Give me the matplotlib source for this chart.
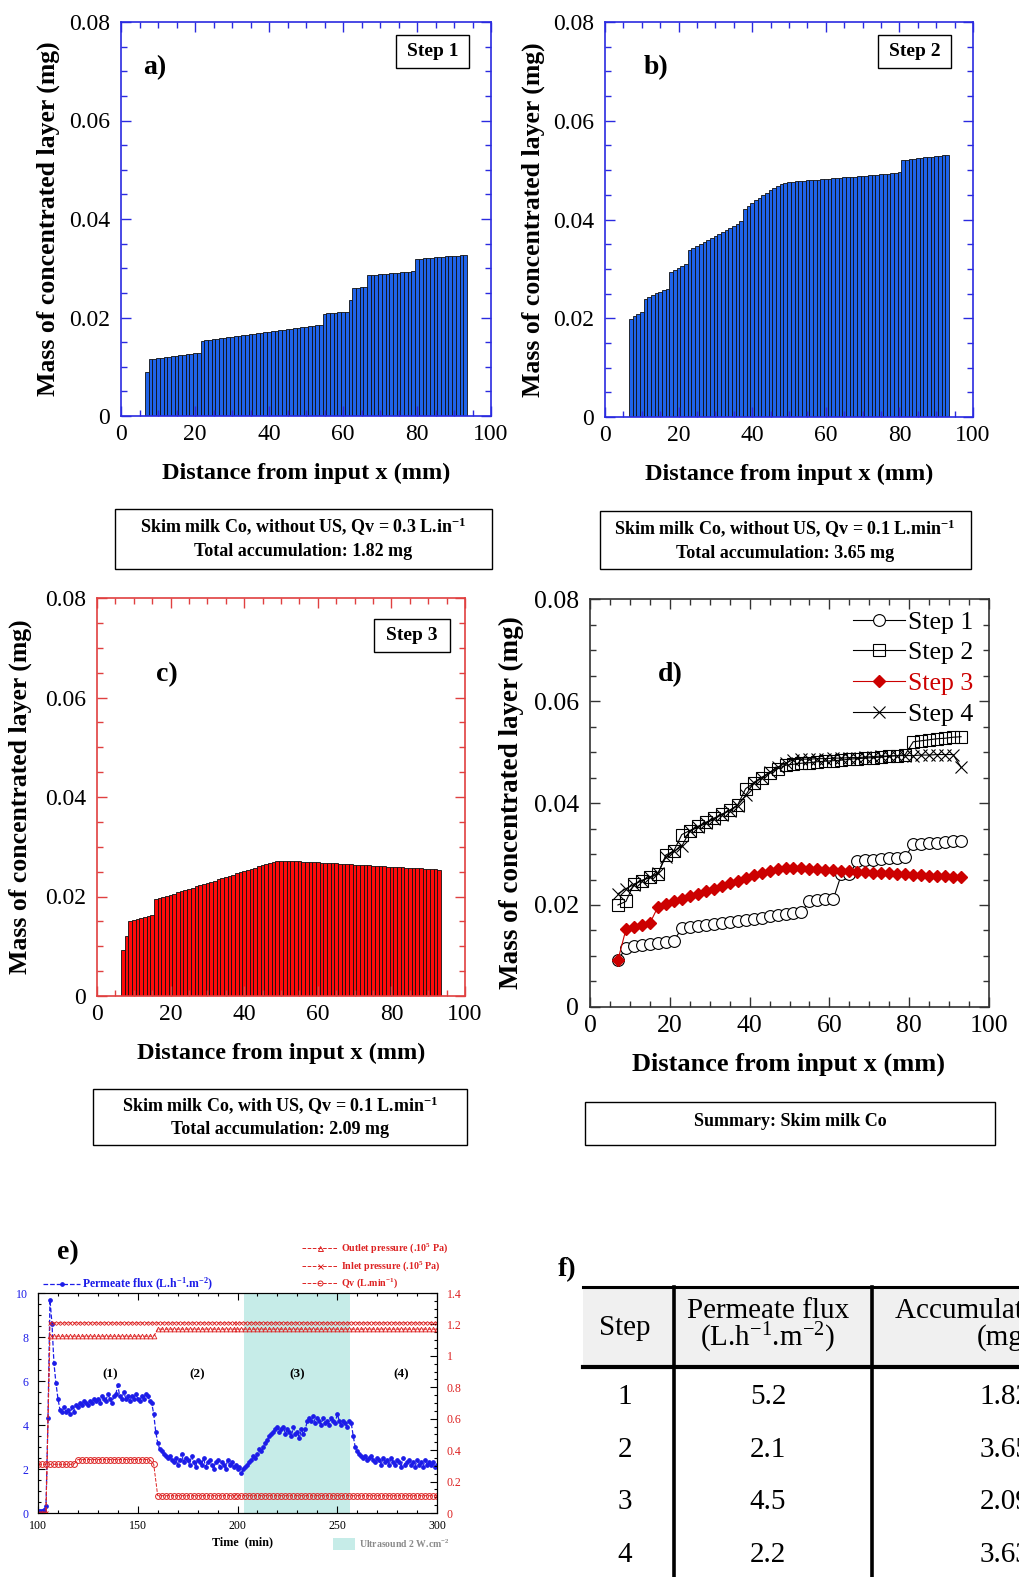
import numpy as np
import matplotlib
matplotlib.use('Agg')
import matplotlib.pyplot as plt
from matplotlib.patches import Rectangle
from matplotlib.lines import Line2D
from matplotlib.ticker import MultipleLocator, FuncFormatter

plt.rcParams['font.family'] = ['Liberation Serif', 'DejaVu Serif']
plt.rcParams['mathtext.fontset'] = 'custom'
plt.rcParams['mathtext.rm'] = 'Liberation Serif'
plt.rcParams['mathtext.bf'] = 'Liberation Serif:bold'
plt.rcParams['mathtext.it'] = 'Liberation Serif:italic'

# ---------------- DATA ----------------
bar_x_mm = np.arange(7, 94)  # bar centres (mm)

mass_step1_bars = [0.0090, 0.0115, 0.0116, 0.0117, 0.0118, 0.0119, 0.0120, 0.0121, 0.0122, 0.0123,
                   0.0124, 0.0125, 0.0126, 0.0127, 0.0128, 0.0153, 0.0154, 0.0155, 0.0156, 0.0157,
                   0.0158, 0.0159, 0.0160, 0.0161, 0.0162, 0.0163, 0.0164, 0.0165, 0.0166, 0.0167,
                   0.0168, 0.0169, 0.0170, 0.0171, 0.0172, 0.0173, 0.0174, 0.0175, 0.0176, 0.0177,
                   0.0178, 0.0179, 0.0180, 0.0181, 0.0182, 0.0183, 0.0184, 0.0185, 0.0208, 0.0209,
                   0.0209, 0.0210, 0.0211, 0.0211, 0.0212, 0.0236, 0.0260, 0.0260, 0.0261, 0.0261,
                   0.0286, 0.0287, 0.0287, 0.0288, 0.0289, 0.0289, 0.0290, 0.0291, 0.0291, 0.0292,
                   0.0292, 0.0293, 0.0294, 0.0318, 0.0319, 0.0320, 0.0320, 0.0321, 0.0322, 0.0322,
                   0.0323, 0.0324, 0.0324, 0.0325, 0.0325, 0.0326, 0.0327]

mass_step2_bars = [0.0199, 0.0204, 0.0208, 0.0212, 0.0240, 0.0244, 0.0248, 0.0251, 0.0254, 0.0257,
                   0.0260, 0.0293, 0.0298, 0.0302, 0.0306, 0.0309, 0.0338, 0.0342, 0.0346, 0.0350,
                   0.0354, 0.0358, 0.0362, 0.0366, 0.0370, 0.0374, 0.0378, 0.0382, 0.0386, 0.0391,
                   0.0396, 0.0422, 0.0428, 0.0434, 0.0439, 0.0444, 0.0449, 0.0454, 0.0459, 0.0463,
                   0.0467, 0.0471, 0.0474, 0.0475, 0.0476, 0.0477, 0.0478, 0.0478, 0.0479, 0.0480,
                   0.0481, 0.0481, 0.0482, 0.0483, 0.0483, 0.0484, 0.0484, 0.0485, 0.0486, 0.0486,
                   0.0487, 0.0487, 0.0488, 0.0489, 0.0489, 0.0490, 0.0490, 0.0491, 0.0492, 0.0492,
                   0.0493, 0.0494, 0.0495, 0.0496, 0.0520, 0.0521, 0.0522, 0.0523, 0.0524, 0.0525,
                   0.0526, 0.0527, 0.0527, 0.0528, 0.0529, 0.0530, 0.0530]

mass_step3_bars = [0.0092, 0.0121, 0.0151, 0.0153, 0.0155, 0.0156, 0.0158, 0.0160, 0.0163, 0.0194,
                   0.0197, 0.0199, 0.0201, 0.0204, 0.0206, 0.0209, 0.0211, 0.0213, 0.0216, 0.0218,
                   0.0221, 0.0223, 0.0225, 0.0228, 0.0230, 0.0232, 0.0235, 0.0237, 0.0240, 0.0242,
                   0.0244, 0.0247, 0.0249, 0.0251, 0.0254, 0.0256, 0.0258, 0.0261, 0.0263, 0.0265,
                   0.0267, 0.0269, 0.0271, 0.0272, 0.0272, 0.0272, 0.0271, 0.0271, 0.0271, 0.0270,
                   0.0270, 0.0270, 0.0269, 0.0269, 0.0268, 0.0268, 0.0267, 0.0267, 0.0267, 0.0266,
                   0.0266, 0.0265, 0.0265, 0.0264, 0.0264, 0.0263, 0.0263, 0.0263, 0.0262, 0.0262,
                   0.0261, 0.0261, 0.0260, 0.0260, 0.0260, 0.0259, 0.0259, 0.0258, 0.0258, 0.0257,
                   0.0257, 0.0257, 0.0256, 0.0256, 0.0255, 0.0255, 0.0254]

# summary panel d (every 2 mm)
summary_x_mm = np.arange(7, 95, 2)
summary_step1 = [0.0092, 0.0116, 0.0119, 0.0121, 0.0123, 0.0126, 0.0128, 0.0130, 0.0154, 0.0156,
                 0.0158, 0.0160, 0.0162, 0.0165, 0.0167, 0.0169, 0.0171, 0.0173, 0.0175, 0.0178,
                 0.0180, 0.0182, 0.0184, 0.0186, 0.0208, 0.0210, 0.0211, 0.0212, 0.0260, 0.0260,
                 0.0286, 0.0288, 0.0289, 0.0290, 0.0292, 0.0293, 0.0294, 0.0319, 0.0320, 0.0321,
                 0.0322, 0.0324, 0.0325, 0.0326]
summary_step2 = [0.0200, 0.0207, 0.0241, 0.0248, 0.0254, 0.0260, 0.0298, 0.0306, 0.0338, 0.0346,
                 0.0354, 0.0362, 0.0370, 0.0378, 0.0386, 0.0396, 0.0428, 0.0439, 0.0449, 0.0459,
                 0.0467, 0.0474, 0.0476, 0.0478, 0.0479, 0.0481, 0.0482, 0.0483, 0.0484, 0.0486,
                 0.0487, 0.0488, 0.0489, 0.0490, 0.0492, 0.0493, 0.0495, 0.0520, 0.0522, 0.0524,
                 0.0526, 0.0527, 0.0529, 0.0530]
summary_step3 = [0.0092, 0.0152, 0.0156, 0.0160, 0.0164, 0.0196, 0.0202, 0.0207, 0.0212, 0.0217,
                 0.0222, 0.0227, 0.0232, 0.0238, 0.0243, 0.0248, 0.0253, 0.0258, 0.0263, 0.0267,
                 0.0270, 0.0272, 0.0273, 0.0272, 0.0271, 0.0270, 0.0269, 0.0268, 0.0267, 0.0266,
                 0.0265, 0.0264, 0.0263, 0.0262, 0.0262, 0.0261, 0.0260, 0.0259, 0.0258, 0.0257,
                 0.0257, 0.0256, 0.0255, 0.0254]
summary_step4 = [0.0222, 0.0232, 0.0240, 0.0248, 0.0255, 0.0262, 0.0295, 0.0305, 0.0315, 0.0345,
                 0.0352, 0.0360, 0.0368, 0.0377, 0.0385, 0.0395, 0.0415, 0.0440, 0.0450, 0.0460,
                 0.0470, 0.0478, 0.0485, 0.0486, 0.0486, 0.0487, 0.0487, 0.0488, 0.0488, 0.0489,
                 0.0489, 0.0490, 0.0491, 0.0492, 0.0492, 0.0493, 0.0493, 0.0493, 0.0494, 0.0494,
                 0.0495, 0.0495, 0.0495, 0.0470]
summary_labels = ['Step 1', 'Step 2', 'Step 3', 'Step 4']

# panel e: permeate flux every 1 min from t = 100 min
flux_time_min = np.arange(100, 301)
permeate_flux = [0.1, 0.1, 0.1, 0.15, 0.3, 4.3, 9.7, 8.6, 6.8, 5.9,
                 5.2, 4.7, 4.6, 4.8, 4.6, 4.7, 4.5, 4.8, 4.6, 4.9,
                 4.8, 5.0, 4.9, 5.1, 5.0, 4.9, 5.1, 5.0, 5.2, 5.1,
                 5.2, 5.0, 5.3, 5.2, 5.1, 5.4, 5.2, 5.0, 5.3, 5.4,
                 5.8, 5.3, 5.2, 5.5, 5.2, 5.3, 5.1, 5.3, 5.2, 5.4,
                 5.2, 5.1, 5.3, 5.2, 5.4, 5.3, 5.1, 5.0, 4.5, 3.7,
                 3.2, 2.9, 2.8, 2.7, 2.6, 2.5, 2.6, 2.4, 2.3, 2.5,
                 2.2, 2.4, 2.7, 2.3, 2.5, 2.4, 2.2, 2.6, 2.3, 2.1,
                 2.4, 2.3, 2.2, 2.5, 2.1, 2.3, 2.4, 2.2, 2.0, 2.3,
                 2.4, 2.1, 2.3, 2.2, 2.0, 2.4, 2.2, 2.3, 2.1, 2.2,
                 2.0, 2.1, 1.8, 2.0, 2.1, 2.2, 2.3, 2.4, 2.6, 2.5,
                 2.7, 2.9, 2.8, 3.0, 3.2, 3.3, 3.5, 3.6, 3.7, 3.8,
                 3.9, 3.7, 3.8, 3.9, 3.6, 3.8, 3.7, 3.5, 3.9, 3.6,
                 3.7, 3.4, 3.8, 3.6, 3.8, 4.2, 4.3, 4.2, 4.4, 4.1,
                 4.3, 4.2, 4.0, 4.3, 4.1, 4.2, 4.0, 4.3, 4.2, 4.1,
                 4.5, 4.2, 4.0, 4.2, 4.1, 3.9, 4.2, 4.1, 3.5, 3.0,
                 2.8, 2.7, 2.6, 2.5, 2.6, 2.4, 2.5, 2.6, 2.4, 2.3,
                 2.5, 2.4, 2.2, 2.5, 2.3, 2.4, 2.2, 2.5, 2.3, 2.2,
                 2.4, 2.3, 2.1, 2.5, 2.2, 2.3, 2.4, 2.2, 2.3, 2.1,
                 2.4, 2.2, 2.3, 2.1, 2.4, 2.2, 2.3, 2.2, 2.3, 2.1,
                 2.2]

# panel e: operating conditions every 2 min from t = 100 min (right axis)
cond_time_min = np.arange(100, 301, 2)
outlet_pressure = [0.0] * 3 + [1.125] * 27 + [1.17] * 71
inlet_pressure = [0.0] * 3 + [1.21] * 98
qv_flow = [0.31] * 10 + [0.34] * 19 + [0.31] + [0.11] * 71
ultrasound_span = (203.5, 256.5)
step_label_time = [136, 180, 230, 282]
step_label_text = ['(1)', '(2)', '(3)', '(4)']

# panel f table
table_steps = ['1', '2', '3', '4']
table_flux = ['5.2', '2.1', '4.5', '2.2']
table_accum = ['1.82', '3.65', '2.09', '3.63']

# ---------------- FIGURE ----------------
W, H = 1019, 1577
fig = plt.figure(figsize=(W / 100, H / 100), dpi=100)


def fx(x):
    return x / W


def fy(y):
    return 1 - y / H


def rect_axes(l, t, r, b):
    return fig.add_axes([l / W, 1 - b / H, (r - l) / W, (b - t) / H])


def fig_rect(l, t, r, b, lw=1.0, fc='none', ec='black', z=1):
    fig.add_artist(Rectangle((fx(l), fy(b)), (r - l) / W, (b - t) / H, transform=fig.transFigure,
                             lw=lw, fc=fc, ec=ec, zorder=z))


def fig_line(xs, ys, **kw):
    fig.add_artist(Line2D([fx(v) for v in xs], [fy(v) for v in ys], transform=fig.transFigure, **kw))


def ftext(x, y, s, **kw):
    kw.setdefault('ha', 'center')
    kw.setdefault('va', 'center')
    fig.text(fx(x), fy(y), s, **kw)


yfmt = FuncFormatter(lambda v, p: '0' if abs(v) < 1e-12 else f'{v:.2f}')
xfmt = FuncFormatter(lambda v, p: f'{v:g}')


def style_mass_axes(ax, spine_color, labelsize=17):
    ax.set_xlim(0, 100)
    ax.set_ylim(0, 0.08)
    ax.xaxis.set_major_locator(MultipleLocator(20))
    ax.xaxis.set_minor_locator(MultipleLocator(5))
    ax.yaxis.set_major_locator(MultipleLocator(0.02))
    ax.yaxis.set_minor_locator(MultipleLocator(0.005))
    ax.yaxis.set_major_formatter(yfmt)
    ax.xaxis.set_major_formatter(xfmt)
    ax.tick_params(which='both', direction='in', top=True, right=True, color=spine_color,
                   labelcolor='black', width=1.0)
    ax.tick_params(which='major', length=7, labelsize=labelsize)
    ax.tick_params(which='minor', length=4)
    ax.tick_params(axis='y', pad=8)
    ax.tick_params(axis='x', pad=6)
    for sp in ax.spines.values():
        sp.set_color(spine_color)
        sp.set_linewidth(1.2)


def bar_panel(box, values, face, spine, label, lab_xy, step_txt, step_box, ylab_x, xlab_y, fs=18.5):
    l, t, r, b = box
    ax = rect_axes(l, t, r, b)
    ax.bar(bar_x_mm, values, width=1.0, color=face, edgecolor='#111111', linewidth=0.6)
    style_mass_axes(ax, spine)
    ftext(lab_xy[0], lab_xy[1], label, fontsize=20, fontweight='bold')
    sl, st, sr, sb = step_box
    fig_rect(sl, st, sr, sb, lw=1.0)
    ftext((sl + sr) / 2, (st + sb) / 2, step_txt, fontsize=14, fontweight='bold')
    ftext(ylab_x, (t + b) / 2, 'Mass of concentrated layer (mg)', rotation=90,
          fontsize=fs, fontweight='bold')
    ftext((l + r) / 2, xlab_y, 'Distance from input x (mm)', fontsize=17.5, fontweight='bold')
    return ax


blue_bar = '#1f63ea'
blue_spine = '#2a2ae0'
red_bar = '#ff0a0a'
red_spine = '#e04040'

bar_panel((121, 22, 491, 416), mass_step1_bars, blue_bar, blue_spine, 'a)', (155, 68),
          'Step 1', (396, 35, 469, 68), 48, 473)
bar_panel((605, 22, 973, 417), mass_step2_bars, blue_bar, blue_spine, 'b)', (656, 68),
          'Step 2', (878, 35, 951, 68), 533, 474)
bar_panel((97, 598, 465, 996), mass_step3_bars, red_bar, red_spine, 'c)', (167, 675),
          'Step 3', (374, 619, 450, 652), 20, 1053)

# caption boxes
box_bold = dict(fontsize=13, fontweight='bold')
fig_rect(115, 509, 492, 569)
ftext(303, 527, r'Skim milk Co, without US, Qv = 0.3 L.in$^{\mathbf{-1}}$', **box_bold)
ftext(303, 551, 'Total accumulation: 1.82 mg', **box_bold)
fig_rect(600, 511, 971, 569)
ftext(785, 529, r'Skim milk Co, without US, Qv = 0.1 L.min$^{\mathbf{-1}}$', **box_bold)
ftext(785, 553, 'Total accumulation: 3.65 mg', **box_bold)
fig_rect(93, 1089, 467, 1145)
ftext(280, 1106, r'Skim milk Co, with US, Qv = 0.1 L.min$^{\mathbf{-1}}$', **box_bold)
ftext(280, 1130, 'Total accumulation: 2.09 mg', **box_bold)
fig_rect(585, 1102, 995, 1145)
ftext(790, 1121, 'Summary: Skim milk Co', **box_bold)

# ---------------- panel d ----------------
axd = rect_axes(590, 599, 989, 1007)
style_mass_axes(axd, '#333333', labelsize=18.5)
axd.plot(summary_x_mm, summary_step1, color='black', lw=0.8, marker='o', ms=8.5, mfc='white',
         mec='black', mew=0.8, label=summary_labels[0], zorder=3)
axd.plot(summary_x_mm, summary_step3, color='#cc0000', lw=0.8, marker='D', ms=6.5, mfc='#cc0000',
         mec='#cc0000', label=summary_labels[2], zorder=4)
axd.plot(summary_x_mm, summary_step2, color='black', lw=0.8, marker='s', ms=8.5, mfc='none',
         mec='black', mew=0.8, label=summary_labels[1], zorder=5)
axd.plot(summary_x_mm, summary_step4, color='black', lw=0.8, marker='x', ms=9, mec='black',
         mew=0.8, label=summary_labels[3], zorder=6)
h, lb = axd.get_legend_handles_labels()
order = [lb.index(s) for s in summary_labels]
axd.legend([h[i] for i in order], [lb[i] for i in order], loc='upper right',
           bbox_to_anchor=(0.968, 0.978), frameon=False, fontsize=18.5, handlelength=2.0,
           handletextpad=0.15, labelspacing=0.3, borderpad=0.1, borderaxespad=0.0,
           labelcolor=['black', 'black', '#cc0000', 'black'])
ftext(670, 675, 'd)', fontsize=20, fontweight='bold')
ftext(511, 803, 'Mass of concentrated layer (mg)', rotation=90, fontsize=19.5, fontweight='bold')
ftext(789, 1064, 'Distance from input x (mm)', fontsize=19, fontweight='bold')

# ---------------- panel e ----------------
flux_blue = '#1c1ce8'
cond_red = '#dd2222'
axe = rect_axes(38, 1293, 437, 1513)
axe.axvspan(ultrasound_span[0], ultrasound_span[1], color='#c6ece8', zorder=0, lw=0)
axe.plot(flux_time_min, permeate_flux, ls='--', color=flux_blue, lw=0.9, marker='o', ms=2.4,
         mec=flux_blue, mfc=flux_blue, zorder=3)
axe.set_xlim(100, 300)
axe.set_ylim(0, 10)
axe.xaxis.set_major_locator(MultipleLocator(50))
axe.xaxis.set_minor_locator(MultipleLocator(10))
axe.yaxis.set_major_locator(MultipleLocator(2))
axe.yaxis.set_minor_locator(MultipleLocator(0.5))
axe.tick_params(which='both', direction='in', top=True, width=0.8, labelsize=8.6)
axe.tick_params(which='major', length=5)
axe.tick_params(which='minor', length=2.5)
axe.tick_params(axis='y', labelcolor=flux_blue, pad=7)
axe.tick_params(axis='x', pad=5)
for t_, s_ in zip(step_label_time, step_label_text):
    axe.text(t_, 6.3, s_, ha='center', va='center', fontsize=9.5, fontweight='bold')

axe2 = axe.twinx()
axe2.set_ylim(0, 1.4)
axe2.plot(cond_time_min, outlet_pressure, ls='--', color=cond_red, lw=0.7, marker='^', ms=3.4,
          mfc='none', mec=cond_red, mew=0.6)
axe2.plot(cond_time_min, inlet_pressure, ls='--', color=cond_red, lw=0.7, marker='x', ms=3.4,
          mec=cond_red, mew=0.6)
axe2.plot(cond_time_min, qv_flow, ls='--', color=cond_red, lw=0.7, marker='o', ms=4.2,
          mfc='none', mec=cond_red, mew=0.7)
axe2.yaxis.set_major_locator(MultipleLocator(0.2))
axe2.yaxis.set_minor_locator(MultipleLocator(0.05))
axe2.yaxis.set_major_formatter(FuncFormatter(lambda v, p: f'{v:g}'))
axe2.tick_params(which='both', direction='in', width=0.8, labelsize=8.6, labelcolor=cond_red, pad=7)
axe2.tick_params(which='major', length=5)
axe2.tick_params(which='minor', length=2.5)
ftext(243, 1542, 'Time  (min)', fontsize=8.7, fontweight='bold')
ftext(68, 1253, 'e)', fontsize=20, fontweight='bold')

# legends for panel e
leg_red = [('^', 'Outlet pressure (.10$^{\\mathbf{5}}$ Pa)', 1248, 'none'),
           ('x', 'Inlet pressure (.10$^{\\mathbf{5}}$ Pa)', 1266, cond_red),
           ('o', 'Qv (L.min$^{\\mathbf{-1}}$)', 1283, 'none')]
for mk, txt, yy, mf in leg_red:
    fig_line([302, 338], [yy, yy], color=cond_red, lw=0.7, ls='--')
    fig_line([320], [yy], color=cond_red, marker=mk, ms=3.6, mfc=mf, mec=cond_red, mew=0.7, ls='none')
    ftext(341, yy, txt, ha='left', fontsize=7.2, fontweight='bold', color=cond_red)
fig_line([43, 80], [1284, 1284], color=flux_blue, lw=0.9, ls='--')
fig_line([62], [1284], color=flux_blue, marker='o', ms=2.4, ls='none')
ftext(82, 1284, r'Permeate flux (L.h$^{\mathbf{-1}}$.m$^{\mathbf{-2}}$)', ha='left', fontsize=8.5,
      fontweight='bold', color=flux_blue)
fig_rect(333, 1538, 355, 1550, lw=0, fc='#c6ece8')
ftext(359, 1544, r'Ultrasound 2 W.cm$^{\mathbf{-2}}$', ha='left', fontsize=7, fontweight='bold',
      color='#8a8a8a')

# ---------------- panel f (table) ----------------
ftext(567, 1270, 'f)', fontsize=20, fontweight='bold')
fig_rect(583, 1287, 1019, 1367, lw=0, fc='#f0f0f0', z=0)
fig_line([583, 1019], [1287, 1287], color='black', lw=2.2)
fig_line([583, 1019], [1367, 1367], color='black', lw=3.0)
fig_line([674, 674], [1287, 1577], color='black', lw=2.6)
fig_line([872, 872], [1287, 1577], color='black', lw=2.6)
tfs = 21
ftext(625, 1328, 'Step', fontsize=tfs)
ftext(768, 1311, 'Permeate flux', fontsize=tfs)
ftext(768, 1338, r'(L.h$^{-1}$.m$^{-2}$)', fontsize=tfs)
ftext(1005, 1311, 'Accumulated mass', fontsize=tfs)
ftext(1005, 1338, '(mg)', fontsize=tfs)
row_y = [1397, 1450, 1502, 1555]
for yy, s, fl, ac in zip(row_y, table_steps, table_flux, table_accum):
    ftext(625, yy, s, fontsize=tfs)
    ftext(768, yy, fl, fontsize=tfs)
    ftext(1005, yy, ac, fontsize=tfs)

fig.savefig('out.png', dpi=100)
